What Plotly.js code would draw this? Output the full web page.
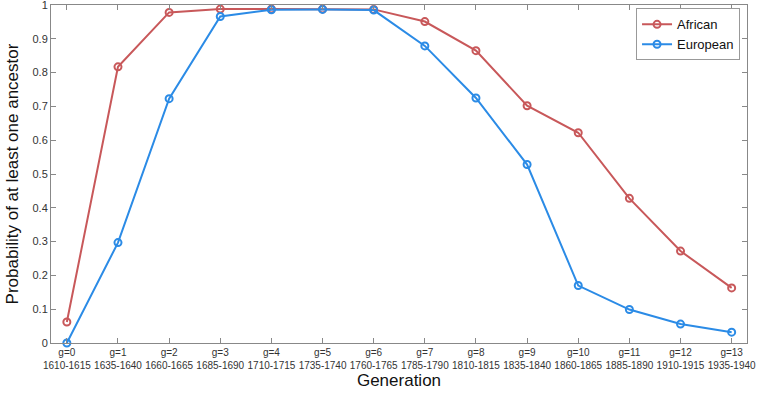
<!DOCTYPE html>
<html>
<head>
<meta charset="utf-8">
<script src="https://cdn.plot.ly/plotly-3.0.1.min.js"></script>
<style>html,body{margin:0;padding:0;background:#fff}#chart{width:760px;height:400px}</style>
</head>
<body>
<div id="chart"></div>
<script>
var generations = [0,1,2,3,4,5,6,7,8,9,10,11,12,13];
var tickLabels = ["g=0<br>1610-1615","g=1<br>1635-1640","g=2<br>1660-1665","g=3<br>1685-1690","g=4<br>1710-1715","g=5<br>1735-1740","g=6<br>1760-1765","g=7<br>1785-1790","g=8<br>1810-1815","g=9<br>1835-1840","g=10<br>1860-1865","g=11<br>1885-1890","g=12<br>1910-1915","g=13<br>1935-1940"];
var yTicks = [0,0.1,0.2,0.3,0.4,0.5,0.6,0.7,0.8,0.9,1];
var yTickLabels = ["0","0.1","0.2","0.3","0.4","0.5","0.6","0.7","0.8","0.9","1"];
var african = [0.062,0.817,0.978,0.988,0.988,0.988,0.987,0.951,0.865,0.702,0.622,0.428,0.272,0.163];
var european = [0.0,0.297,0.723,0.966,0.986,0.987,0.985,0.879,0.725,0.528,0.170,0.099,0.056,0.032];

var traces = [
  {x: generations, y: african, name: "African", mode: "lines+markers", cliponaxis: false,
   line: {color: "#C8585A", width: 2},
   marker: {symbol: "circle-open", size: 7, color: "#C8585A", line: {width: 2}}},
  {x: generations, y: european, name: "European", mode: "lines+markers", cliponaxis: false,
   line: {color: "#2B8BE6", width: 2},
   marker: {symbol: "circle-open", size: 7, color: "#2B8BE6", line: {width: 2}}}
];
var FONT = "Liberation Sans, Arial, sans-serif";
var axisCommon = {showline: true, linecolor: "#888", linewidth: 1, mirror: "ticks",
  ticks: "inside", ticklen: 5, tickcolor: "#888", showgrid: false, zeroline: false,
  ticklabeloverflow: "allow",
  tickfont: {family: FONT, size: 10, color: "#333"}};
var layout = {
  width: 760, height: 400,
  margin: {l: 51, r: 13, t: 5, b: 57},
  paper_bgcolor: "#fff", plot_bgcolor: "#fff",
  showlegend: true,
  legend: {x: 0.99, xanchor: "right", y: 0.99, yanchor: "top",
    bgcolor: "#fff", bordercolor: "#999", borderwidth: 1,
    font: {family: FONT, size: 13, color: "#111"},
    tracegroupgap: 0, itemwidth: 30},
  xaxis: Object.assign({}, axisCommon, {
    range: [-0.31, 13.3], tickmode: "array", tickvals: generations, ticktext: tickLabels,
    tickangle: 0,
    title: {text: "Generation", font: {family: FONT, size: 17, color: "#111"}, standoff: 4}
  }),
  yaxis: Object.assign({}, axisCommon, {
    range: [0, 1], tickmode: "array", tickvals: yTicks, ticktext: yTickLabels, ticksuffix: " ",
    tickfont: {family: FONT, size: 11, color: "#333"},
    title: {text: "Probability of at least one ancestor", font: {family: FONT, size: 17, color: "#111"}, standoff: 9}
  })
};
Plotly.newPlot("chart", traces, layout, {displayModeBar: false, staticPlot: true});
</script>
</body>
</html>
